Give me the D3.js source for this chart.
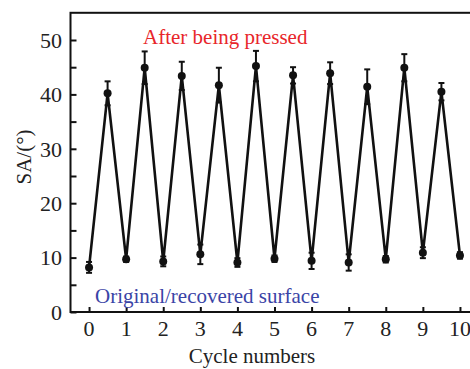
<!DOCTYPE html>
<html>
<head>
<meta charset="utf-8">
<script src="https://cdn.jsdelivr.net/npm/d3@7"></script>
<style>
  body { margin: 0; background: #fff; }
</style>
</head>
<body>
<svg id="chart" width="470" height="369"></svg>
<script>
// cycle positions: integers = original/recovered, halves = after being pressed
var cycles = [0, 0.5, 1, 1.5, 2, 2.5, 3, 3.5, 4, 4.5, 5, 5.5, 6, 6.5, 7, 7.5, 8, 8.5, 9, 9.5, 10];
var saValues = [8.2, 40.2, 9.7, 44.9, 9.3, 43.4, 10.6, 41.7, 9.1, 45.2, 9.8, 43.5, 9.4, 43.9, 9.1, 41.4, 9.7, 44.9, 10.9, 40.5, 10.4];
var saErrors = [1.0, 2.2, 0.5, 3.0, 0.9, 2.6, 1.8, 3.2, 0.8, 2.8, 0.6, 1.5, 1.5, 2.0, 1.5, 3.2, 0.6, 2.5, 1.0, 1.6, 0.6];
var xTicks = [0, 1, 2, 3, 4, 5, 6, 7, 8, 9, 10];
var yTicks = [0, 10, 20, 30, 40, 50];
var yMinorTicks = [5, 15, 25, 35, 45];

var FONT = "'Liberation Serif', 'Times New Roman', serif";

var svg = d3.select("#chart");

var x = d3.scaleLinear().domain([-0.5, 10.5]).range([70.5, 478.5]);
var y = d3.scaleLinear().domain([0, 55]).range([312, 12.8]);

var pts = cycles.map(function(c, i) { return {x: c, v: saValues[i], e: saErrors[i]}; });

// frame (right side is cut off by the picture)
svg.append("rect")
  .attr("x", x(-0.5)).attr("y", y(55))
  .attr("width", x(10.5) - x(-0.5)).attr("height", y(0) - y(55))
  .attr("fill", "none").attr("stroke", "#111").attr("stroke-width", 2);

// y axis, ticks inward
var yAxis = svg.append("g")
  .attr("transform", "translate(" + x(-0.5) + ",0)")
  .call(d3.axisRight(y).tickValues(yTicks.concat(yMinorTicks)).tickSize(6).tickFormat(""));
yAxis.select(".domain").remove();
yAxis.selectAll("line").attr("stroke", "#111").attr("stroke-width", 2);

svg.selectAll(".ylab")
  .data(yTicks).enter().append("text")
  .attr("class", "ylab")
  .attr("x", 62).attr("y", function(d) { return y(d); })
  .attr("dy", "0.35em")
  .attr("text-anchor", "end")
  .attr("font-family", FONT)
  .attr("font-size", 22)
  .attr("fill", "#222")
  .text(function(d) { return d; });

// x axis, ticks inward
var xAxis = svg.append("g")
  .attr("transform", "translate(0," + y(0) + ")")
  .call(d3.axisTop(x).tickValues(xTicks).tickSize(5).tickFormat(""));
xAxis.select(".domain").remove();
xAxis.selectAll("line").attr("stroke", "#111").attr("stroke-width", 2);

svg.selectAll(".xlab")
  .data(xTicks).enter().append("text")
  .attr("class", "xlab")
  .attr("x", function(d) { return x(d); }).attr("y", 336)
  .attr("text-anchor", "middle")
  .attr("font-family", FONT)
  .attr("font-size", 22)
  .attr("fill", "#222")
  .text(function(d) { return d; });

// axis titles
svg.append("text")
  .attr("transform", "translate(31,157) rotate(-90)")
  .attr("text-anchor", "middle")
  .attr("font-family", FONT)
  .attr("font-size", 21)
  .attr("fill", "#222")
  .text("SA/(°)");

svg.append("text")
  .attr("x", 252).attr("y", 363)
  .attr("text-anchor", "middle")
  .attr("font-family", FONT)
  .attr("font-size", 21)
  .attr("fill", "#222")
  .text("Cycle numbers");

// error bars
var eb = svg.append("g").attr("stroke", "#111").attr("stroke-width", 2);
eb.selectAll(".ebar").data(pts).enter().append("line")
  .attr("x1", function(d) { return x(d.x); }).attr("x2", function(d) { return x(d.x); })
  .attr("y1", function(d) { return y(d.v - d.e); }).attr("y2", function(d) { return y(d.v + d.e); });
eb.selectAll(".capt").data(pts).enter().append("line")
  .attr("x1", function(d) { return x(d.x) - 3; }).attr("x2", function(d) { return x(d.x) + 3; })
  .attr("y1", function(d) { return y(d.v + d.e); }).attr("y2", function(d) { return y(d.v + d.e); });
eb.selectAll(".capb").data(pts).enter().append("line")
  .attr("x1", function(d) { return x(d.x) - 3; }).attr("x2", function(d) { return x(d.x) + 3; })
  .attr("y1", function(d) { return y(d.v - d.e); }).attr("y2", function(d) { return y(d.v - d.e); });

// line + markers
var line = d3.line().x(function(d) { return x(d.x); }).y(function(d) { return y(d.v); });
svg.append("path")
  .datum(pts)
  .attr("d", line)
  .attr("fill", "none")
  .attr("stroke", "#111")
  .attr("stroke-width", 2.6)
  .attr("stroke-linejoin", "round");

svg.selectAll(".pt").data(pts).enter().append("circle")
  .attr("cx", function(d) { return x(d.x); })
  .attr("cy", function(d) { return y(d.v); })
  .attr("r", 4)
  .attr("fill", "#111");

// annotations
svg.append("text")
  .attr("x", 143).attr("y", 44)
  .attr("font-family", FONT)
  .attr("font-size", 21)
  .attr("fill", "#e8262a")
  .text("After being pressed");

svg.append("text")
  .attr("x", 95).attr("y", 303)
  .attr("font-family", FONT)
  .attr("font-size", 21)
  .attr("fill", "#3a44a6")
  .text("Original/recovered surface");
</script>
</body>
</html>
